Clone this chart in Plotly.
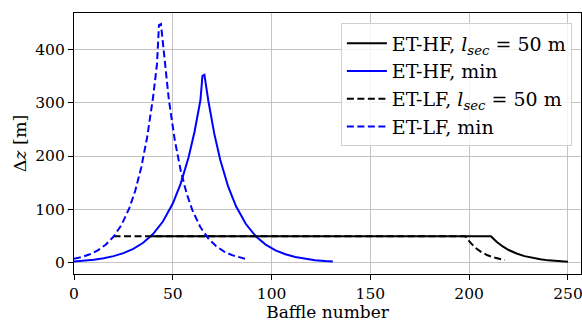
import plotly.graph_objects as go

# Baffle spacing profiles along the tube
hf_min_x = [0, 5, 10, 15, 20, 25, 30, 35, 40, 45, 50, 54, 58, 61, 64, 65, 66,
            68, 71, 74, 78, 82, 87, 92, 97, 102, 107, 112, 117, 122, 127, 131]
hf_min_y = [3.0, 4.4, 6.2, 8.9, 12.8, 18.4, 26.4, 37.8, 54.1, 77.6, 111.2, 148.4,
            197.9, 245.6, 304.8, 350, 352,
            303, 241.9, 193.2, 143.1, 106.0, 72.9, 50.1, 34.4, 23.7, 16.3, 11.2,
            7.7, 5.3, 3.6, 2.7]

lf_min_x = [0, 4, 8, 12, 16, 20, 24, 28, 31, 34, 37, 40, 42, 43, 44,
            46, 48, 51, 54, 57, 60, 64, 68, 72, 76, 80, 84, 87]
lf_min_y = [7.8, 11.3, 16.3, 23.5, 34.0, 49.1, 71.0, 102.6, 135.2, 178.1, 234.8,
            309.4, 371.9, 445, 447,
            369.7, 305.7, 229.9, 172.9, 130.0, 97.8, 66.9, 45.7, 31.3, 21.4, 14.6,
            10.0, 7.5]

hf_sec_x = [39, 211, 214, 217, 220, 224, 228, 232, 236, 240, 245, 250]
hf_sec_y = [50, 50, 39.3, 30.9, 24.3, 17.7, 12.8, 9.3, 6.8, 4.9, 3.3, 2.2]

lf_sec_x = [20, 198, 199, 201, 203, 206, 209, 212, 215, 218]
lf_sec_y = [50, 50, 44.8, 36.0, 28.8, 20.7, 14.9, 10.7, 7.7, 5.5]

series = [
    ("ET-HF, <i>l</i><sub><i>sec</i></sub> = 50 m", hf_sec_x, hf_sec_y, "black", "solid"),
    ("ET-HF, min", hf_min_x, hf_min_y, "#0000ff", "solid"),
    ("ET-LF, <i>l</i><sub><i>sec</i></sub> = 50 m", lf_sec_x, lf_sec_y, "black", "7px,3.5px"),
    ("ET-LF, min", lf_min_x, lf_min_y, "#0000ff", "7px,3.5px"),
]

x_ticks = [0, 50, 100, 150, 200, 250]
y_ticks = [0, 100, 200, 300, 400]

FONT = "DejaVu Serif"

fig = go.Figure()
for name, xs, ys, color, dash in series:
    fig.add_trace(go.Scatter(
        x=xs, y=ys, mode="lines", name=name,
        line=dict(color=color, width=2, dash=dash),
    ))

axis_common = dict(
    showline=True, linecolor="black", linewidth=1.3, mirror=True,
    ticks="outside", ticklen=5, tickwidth=1, tickcolor="black",
    showgrid=True, gridcolor="#c4c4c4", gridwidth=1,
    zeroline=False, ticklabeloverflow="allow",
    tickfont=dict(family=FONT, size=15.5, color="black"),
)

fig.update_xaxes(
    range=[0, 256.6], tickvals=x_ticks,
    title=dict(text="Baffle number", font=dict(family=FONT, size=17, color="black"),
               standoff=0),
    **axis_common,
)
fig.update_yaxes(
    range=[-20.6, 467.6], tickvals=y_ticks,
    title=dict(text="Δ<i>z</i> [m]", font=dict(family=FONT, size=17.5, color="black"),
               standoff=4),
    **axis_common,
)

fig.update_layout(
    width=582, height=322,
    margin=dict(l=74, r=1, t=13, b=48, autoexpand=False),
    plot_bgcolor="white", paper_bgcolor="white",
    font=dict(family=FONT, color="black"),
    legend=dict(
        x=0.982, y=0.96, xanchor="right", yanchor="top",
        bgcolor="rgba(255,255,255,0.8)", bordercolor="#d0d0d0", borderwidth=1,
        font=dict(family=FONT, size=19, color="black"),
        tracegroupgap=0, itemwidth=40,
    ),
)

fig.write_html("out.html")
